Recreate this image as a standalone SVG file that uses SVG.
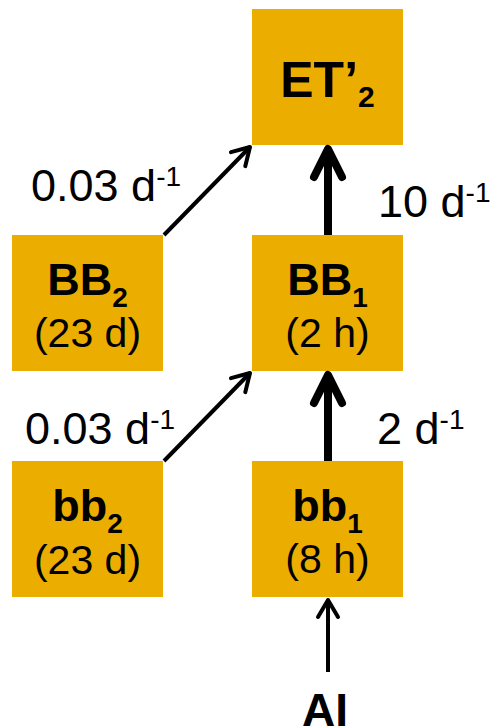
<svg xmlns="http://www.w3.org/2000/svg" width="500" height="728" viewBox="0 0 500 728">
  <style>
    .box { fill: #EBAD00; }
    .name { font-family: "Liberation Sans", Arial, sans-serif; font-weight: bold; font-size: 45px; fill: #000; text-anchor: middle; }
    .life { font-family: "Liberation Sans", Arial, sans-serif; font-size: 41px; fill: #000; text-anchor: middle; }
    .rate { font-family: "Liberation Sans", Arial, sans-serif; font-size: 45px; fill: #000; }
    .sup { font-size: 28px; }
    .sub { font-size: 28px; }
    .thin { stroke: #000; stroke-width: 4; fill: none; }
    .thick { stroke: #000; stroke-width: 8; fill: none; }
  </style>
  <defs>
    <marker id="headThin" markerUnits="userSpaceOnUse" orient="auto" refX="0" refY="0" markerWidth="30" markerHeight="30" overflow="visible">
      <path d="M -17,-10 L 0,0 L -17,10" fill="none" stroke="#000" stroke-width="4" stroke-linecap="round" stroke-linejoin="round"/>
    </marker>
    <marker id="headThick" markerUnits="userSpaceOnUse" orient="auto" refX="0" refY="0" markerWidth="40" markerHeight="40" overflow="visible">
      <path d="M -28,-14 L 0,0 L -28,14" fill="none" stroke="#000" stroke-width="8" stroke-linecap="round" stroke-linejoin="round"/>
    </marker>
  </defs>

  <!-- nodes -->
  <g id="node-ET2">
    <rect class="box" x="252" y="9" width="151" height="136"/>
    <text class="name" x="327.5" y="97" style="font-size:50px">ET’<tspan dy="10" style="font-size:30px">2</tspan></text>
  </g>
  <g id="node-BB2">
    <rect class="box" x="12" y="235" width="151" height="136"/>
    <text class="name" x="87.5" y="295">BB<tspan class="sub" dy="12">2</tspan></text>
    <text class="life" x="87.5" y="347">(23 d)</text>
  </g>
  <g id="node-BB1">
    <rect class="box" x="252" y="235" width="151" height="136"/>
    <text class="name" x="327.5" y="295">BB<tspan class="sub" dy="12">1</tspan></text>
    <text class="life" x="327.5" y="347">(2 h)</text>
  </g>
  <g id="node-bb2">
    <rect class="box" x="12" y="461" width="151" height="136"/>
    <text class="name" x="87.5" y="521">bb<tspan class="sub" dy="12">2</tspan></text>
    <text class="life" x="87.5" y="574">(23 d)</text>
  </g>
  <g id="node-bb1">
    <rect class="box" x="252" y="461" width="151" height="136"/>
    <text class="name" x="327.5" y="521">bb<tspan class="sub" dy="12">1</tspan></text>
    <text class="life" x="327.5" y="573">(8 h)</text>
  </g>
  <g id="node-AI">
    <text class="name" x="325" y="726" style="font-size:46px">AI</text>
  </g>

  <!-- connectors -->
  <g id="connectors">
    <line class="thin" x1="164" y1="235" x2="250" y2="147" marker-end="url(#headThin)"/>
    <line class="thick" x1="328" y1="235" x2="328" y2="149" marker-end="url(#headThick)"/>
    <line class="thin" x1="164" y1="461" x2="250" y2="373" marker-end="url(#headThin)"/>
    <line class="thick" x1="328" y1="461" x2="328" y2="375" marker-end="url(#headThick)"/>
    <line class="thin" x1="328" y1="672" x2="328" y2="600" marker-end="url(#headThin)"/>
  </g>

  <!-- rate labels -->
  <g id="labels">
    <text class="rate" x="31" y="201">0.03 d<tspan class="sup" dy="-15">-1</tspan></text>
    <text class="rate" x="378" y="217">10 d<tspan class="sup" dy="-15">-1</tspan></text>
    <text class="rate" x="25" y="444">0.03 d<tspan class="sup" dy="-15">-1</tspan></text>
    <text class="rate" x="377" y="444">2 d<tspan class="sup" dy="-15">-1</tspan></text>
  </g>
</svg>
